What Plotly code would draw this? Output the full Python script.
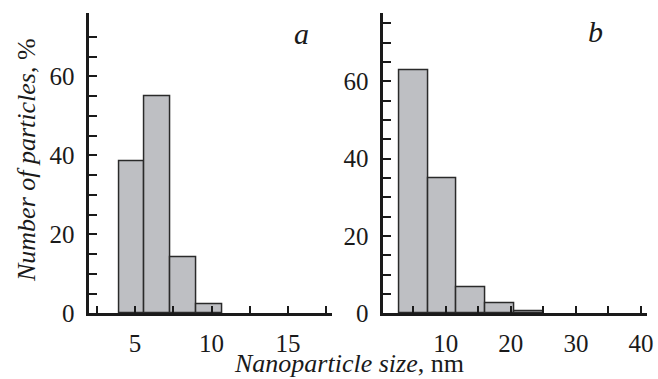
import plotly.graph_objects as go

# Panel a: nanoparticle size histogram
a_bin_left = [3.95, 5.64, 7.33, 9.02]
a_bin_width = 1.69
a_percent = [38.5, 55.0, 14.3, 2.4]

# Panel b
b_bin_left = [2.8, 7.24, 11.68, 16.12, 20.56]
b_bin_width = 4.44
b_percent = [62.8, 34.8, 6.8, 2.7, 0.5]

x_title = "<i>Nanoparticle size</i>, nm"
y_title = "<i>Number of particles</i>, %"
panel_labels = ["a", "b"]

W, H = 658, 379
FONT = "Liberation Serif, Times New Roman, serif"
TXT = "#1a1a1a"
FILL = "#bebfc3"
EDGE = "#2a2a2a"

def px_x(p):
    return p / W

def px_y(p):
    return (H - p) / H

fig = go.Figure()
fig.add_trace(go.Bar(x=a_bin_left, y=a_percent, width=a_bin_width, offset=0,
                     marker=dict(color=FILL, line=dict(color=EDGE, width=1.5)),
                     xaxis="x", yaxis="y", showlegend=False))
fig.add_trace(go.Bar(x=b_bin_left, y=b_percent, width=b_bin_width, offset=0,
                     marker=dict(color=FILL, line=dict(color=EDGE, width=1.5)),
                     xaxis="x2", yaxis="y2", showlegend=False))

ydom = [px_y(313.3), px_y(13.3)]
common = dict(showline=True, linecolor=TXT, linewidth=2.5, ticks="inside",
              ticklen=8, tickwidth=1.5, tickcolor=TXT, showgrid=False,
              zeroline=False, automargin=False,
              tickfont=dict(family=FONT, size=25, color=TXT))
minor_style = dict(ticks="inside", ticklen=8, tickwidth=1.5, tickcolor=TXT)

fig.update_layout(
    width=W, height=H, margin=dict(l=0, r=0, t=0, b=0),
    paper_bgcolor="white", plot_bgcolor="white", bargap=0,
    xaxis=dict(domain=[px_x(89.3), px_x(331.7)], range=[2.02, 17.85],
               tickvals=[5, 10, 15],
               minor=dict(tickvals=[2.5, 7.5, 12.5, 17.5], **minor_style),
               anchor="y", ticklabelstandoff=6, **common),
    yaxis=dict(domain=ydom, range=[0, 76.0], tickvals=[0, 20, 40, 60],
               minor=dict(tickvals=[5, 10, 15, 25, 30, 35, 45, 50, 55, 65, 70],
                          **minor_style),
               anchor="x", ticklabelstandoff=7, **common),
    xaxis2=dict(domain=[px_x(383.3), px_x(646.7)], range=[0.4, 40.88],
                tickvals=[10, 20, 30, 40],
                minor=dict(tickvals=[5, 15, 25, 35], **minor_style),
                anchor="y2", ticklabelstandoff=6, **common),
    yaxis2=dict(domain=ydom, range=[0, 77.6], tickvals=[0, 20, 40, 60],
                minor=dict(tickvals=[5, 10, 15, 25, 30, 35, 45, 50, 55, 65, 70, 75],
                           **minor_style),
                anchor="x2", ticklabelstandoff=7, **common),
)

ann_font = dict(family=FONT, size=26, color=TXT)
fig.add_annotation(text=x_title, xref="paper", yref="paper",
                   x=px_x(348.5), y=0, xanchor="center", yanchor="bottom",
                   showarrow=False, font=ann_font, borderpad=0)
fig.add_annotation(text=y_title, xref="paper", yref="paper", textangle=-90,
                   x=px_x(27), y=px_y(160), xanchor="center", yanchor="middle",
                   showarrow=False, font=ann_font)
fig.add_annotation(text="<i>%s</i>" % panel_labels[0], xref="paper", yref="paper",
                   x=px_x(301), y=px_y(33), xanchor="center", yanchor="middle",
                   showarrow=False, font=dict(family=FONT, size=30, color=TXT))
fig.add_annotation(text="<i>%s</i>" % panel_labels[1], xref="paper", yref="paper",
                   x=px_x(595), y=px_y(32), xanchor="center", yanchor="middle",
                   showarrow=False, font=dict(family=FONT, size=30, color=TXT))

fig.write_html("out.html", config={"displayModeBar": False},
               post_script="document.body.style.margin='0';document.body.style.overflow='hidden';")
